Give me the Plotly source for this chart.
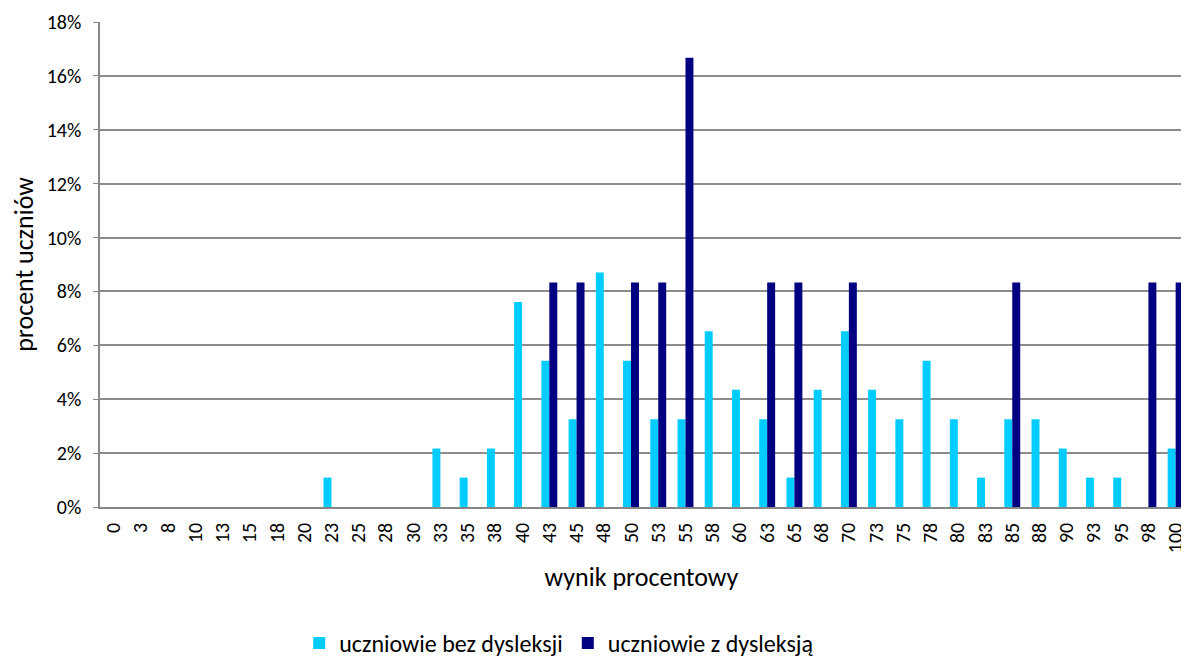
import plotly.graph_objects as go

categories = ["0","3","8","10","13","15","18","20","23","25","28","30","33","35","38","40",
              "43","45","48","50","53","55","58","60","63","65","68","70","73","75","78","80",
              "83","85","88","90","93","95","98","100"]
bez_dysleksji = [0,0,0,0,0,0,0,0,1.09,0,0,0,2.17,1.09,2.17,7.61,
                 5.43,3.26,8.70,5.43,3.26,3.26,6.52,4.35,3.26,1.09,4.35,6.52,4.35,3.26,5.43,3.26,
                 1.09,3.26,3.26,2.17,1.09,1.09,0,2.17]
z_dysleksja = [0,0,0,0,0,0,0,0,0,0,0,0,0,0,0,0,
               8.33,8.33,0,8.33,8.33,16.67,0,0,8.33,8.33,0,8.33,0,0,0,0,
               0,8.33,0,0,0,0,8.33,8.33]

font_family = "Carlito, Lato, sans-serif"

fig = go.Figure()
fig.add_trace(go.Bar(x=categories, y=[v/100 for v in bez_dysleksji], name="uczniowie bez dysleksji",
                     marker=dict(color="#00CCFF", line=dict(width=0))))
fig.add_trace(go.Bar(x=categories, y=[v/100 for v in z_dysleksja], name="uczniowie z dysleksją",
                     marker=dict(color="#000080", line=dict(width=0))))

fig.update_layout(
    width=1181, height=651,
    margin=dict(l=92, r=2, t=12, b=152),
    plot_bgcolor="white", paper_bgcolor="white",
    barmode="group", bargap=0.415, bargroupgap=0,
    font=dict(family=font_family, color="black"),
    showlegend=True,
    legend=dict(orientation="h", x=0.424, xanchor="center", yref="container", y=0.024, yanchor="middle",
                font=dict(size=24), itemsizing="constant", traceorder="normal", entrywidth=0),
)
fig.update_xaxes(
    type="category", tickangle=-90, tickfont=dict(size=20),
    range=[-0.5, 39.27],
    showline=True, linecolor="#868686", linewidth=1.5,
    ticks="", ticklabelstandoff=6,
    title=dict(text="wynik procentowy", font=dict(size=26), standoff=16),
    showgrid=False,
)
fig.update_yaxes(
    range=[0, 0.18], dtick=0.02, tickformat=".0%",
    tickfont=dict(size=20),
    showline=True, linecolor="#868686", linewidth=1.5,
    ticks="outside", ticklen=5, tickcolor="#868686", ticklabelstandoff=8,
    showgrid=True, gridcolor="#8c8c8c", gridwidth=1.5,
    title=dict(text="procent uczniów", font=dict(size=26), standoff=8),
    zeroline=False,
)

fig.write_html("out.html")
